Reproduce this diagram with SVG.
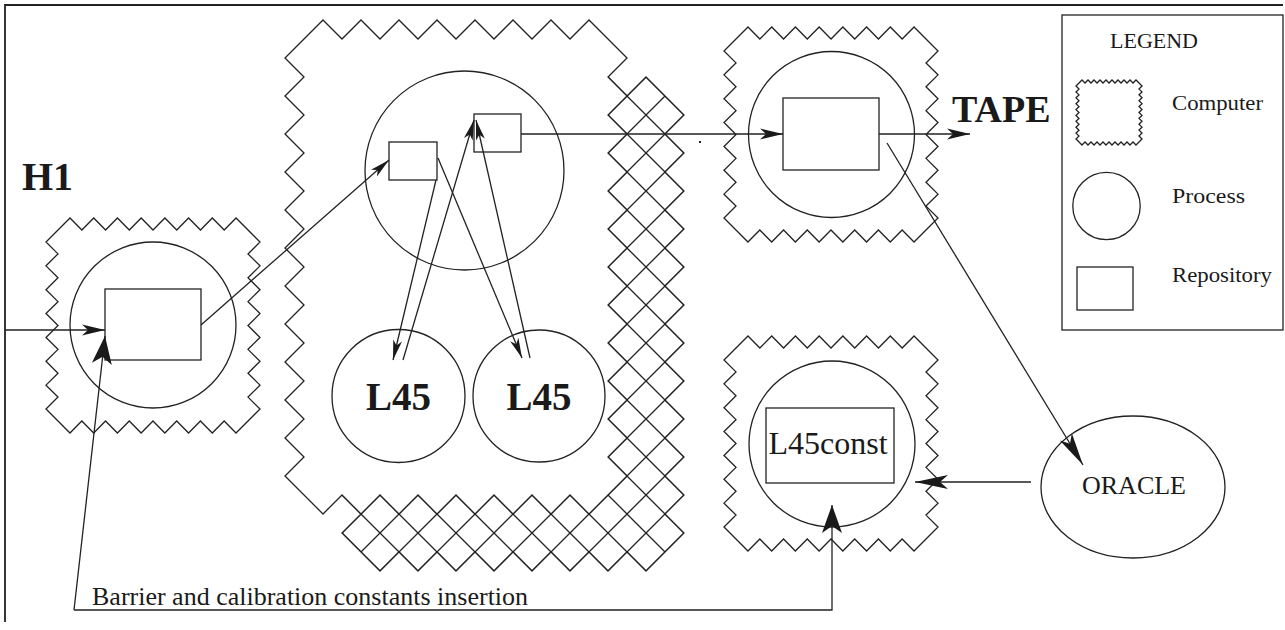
<svg xmlns="http://www.w3.org/2000/svg" width="1285" height="630" viewBox="0 0 1285 630">
<style>
.s{fill:none;stroke:#222;stroke-width:1.3}
.w{fill:#fff;stroke:#222;stroke-width:1.3}
.t{font-family:"Liberation Serif","Times New Roman",serif;fill:#1a1a1a}
.c{fill:none;stroke:#222;stroke-width:1.3}
.ah{fill:#1a1a1a;stroke:none}
</style>
<defs>
<path id="stampM" d="M24,0 l11.86,12 l11.86,-12 l11.86,12 l11.86,-12 l11.86,12 l11.86,-12 l11.86,12 l11.86,-12 l11.86,12 l11.86,-12 l11.86,12 l11.86,-12 l11.86,12 l11.86,-12 L214,24 l-12,11.93 l12,11.93 l-12,11.93 l12,11.93 l-12,11.93 l12,11.93 l-12,11.93 l12,11.93 l-12,11.93 l12,11.93 l-12,11.93 l12,11.93 l-12,11.93 l12,11.93 L190,215 l-11.86,-12 l-11.86,12 l-11.86,-12 l-11.86,12 l-11.86,-12 l-11.86,12 l-11.86,-12 l-11.86,12 l-11.86,-12 l-11.86,12 l-11.86,-12 l-11.86,12 l-11.86,-12 l-11.86,12 L0,191 l12,-11.93 l-12,-11.93 l12,-11.93 l-12,-11.93 l12,-11.93 l-12,-11.93 l12,-11.93 l-12,-11.93 l12,-11.93 l-12,-11.93 l12,-11.93 l-12,-11.93 l12,-11.93 l-12,-11.93 Z"/>
<path id="bigC" d="M323,20 l19,19 l19,-19 l19,19 l19,-19 l19,19 l19,-19 l19,19 l19,-19 l19,19 l19,-19 l19,19 l19,-19 l19,19 l19,-19 L627,58 l-19,19 l19,19 l-19,19 l19,19 l-19,19 l19,19 l-19,19 l19,19 l-19,19 l19,19 l-19,19 l19,19 l-19,19 l19,19 l-19,19 l19,19 l-19,19 l19,19 l-19,19 l19,19 l-19,19 l19,19 L589,514 l-19,-19 l-19,19 l-19,-19 l-19,19 l-19,-19 l-19,19 l-19,-19 l-19,19 l-19,-19 l-19,19 l-19,-19 l-19,19 l-19,-19 l-19,19 L285,476 l19,-19 l-19,-19 l19,-19 l-19,-19 l19,-19 l-19,-19 l19,-19 l-19,-19 l19,-19 l-19,-19 l19,-19 l-19,-19 l19,-19 l-19,-19 l19,-19 l-19,-19 l19,-19 l-19,-19 l19,-19 l-19,-19 l19,-19 l-19,-19 Z"/>
<pattern id="hatch" patternUnits="userSpaceOnUse" x="0" y="1" width="38" height="38">
<rect width="38" height="38" fill="#fff"/>
<path d="M-2,-2 L40,40 M36,-2 L40,2 M-2,36 L2,40 M-2,40 L40,-2 M-2,2 L2,-2 M36,40 L40,36" stroke="#222" stroke-width="1.3" fill="none"/>
</pattern>
<marker id="aS" markerUnits="userSpaceOnUse" viewBox="-24 -8 26 16" markerWidth="26" markerHeight="16" refX="0" refY="0" orient="auto" overflow="visible"><path class="ah" d="M0,0 L-20,-4.5 L-15,0 L-20,4.5 Z"/></marker>
<marker id="aM" markerUnits="userSpaceOnUse" viewBox="-26 -8 28 16" markerWidth="28" markerHeight="16" refX="0" refY="0" orient="auto" overflow="visible"><path class="ah" d="M0,0 L-23,-5.5 L-17,0 L-23,5.5 Z"/></marker>
<marker id="aL" markerUnits="userSpaceOnUse" viewBox="-32 -12 34 24" markerWidth="34" markerHeight="24" refX="0" refY="0" orient="auto" overflow="visible"><path class="ah" d="M0,0 L-28,-10 L-21,0 L-28,10 Z"/></marker>
<marker id="aN" markerUnits="userSpaceOnUse" viewBox="-36 -9 38 18" markerWidth="38" markerHeight="18" refX="0" refY="0" orient="auto" overflow="visible"><path class="ah" d="M0,0 L-33,-7 L-25,0 L-33,7 Z"/></marker>
</defs>
<rect width="1285" height="630" fill="#fff"/>
<path d="M1283,5 L5,5 L5,622" fill="none" stroke="#222" stroke-width="1.8"/>

<g id="computer-h1">
<use href="#stampM" x="46" y="218" class="s"/>
<circle cx="153" cy="325" r="83" class="s"/>
<rect x="105" y="289" width="96" height="71" class="s"/>
<text class="t" x="22" y="190" font-size="40" font-weight="bold">H1</text>
</g>

<g id="computer-l45">
<use href="#bigC" transform="translate(57,57)" fill="url(#hatch)" stroke="#222" stroke-width="1.3"/>
<use href="#bigC" class="w"/>
<g id="process-main">
<circle cx="464.5" cy="170.5" r="99.5" class="s"/>
<rect id="repo-a" x="389" y="142" width="48" height="38" class="s"/>
<rect id="repo-b" x="474" y="114" width="47" height="38" class="s"/>
</g>
<g id="process-l45-a">
<circle cx="398.5" cy="396" r="66.5" class="s"/>
<text class="t" x="398.5" y="410" font-size="39" font-weight="bold" text-anchor="middle">L45</text>
</g>
<g id="process-l45-b">
<circle cx="539" cy="396" r="66" class="s"/>
<text class="t" x="539" y="410" font-size="39" font-weight="bold" text-anchor="middle">L45</text>
</g>
</g>

<g id="computer-tape">
<use href="#stampM" x="724" y="27" class="s"/>
<circle cx="831.5" cy="134.5" r="83" class="s"/>
<rect x="783" y="98" width="96" height="72" class="s"/>
</g>
<g id="tape-label">
<text class="t" x="952" y="122" font-size="38" font-weight="bold">TAPE</text>
</g>

<g id="computer-l45const">
<use href="#stampM" x="724" y="336" class="s"/>
<circle cx="832" cy="444" r="83" class="s"/>
<rect x="766" y="408" width="128" height="75" class="s"/>
<text class="t" x="828" y="454" font-size="32" text-anchor="middle">L45const</text>
</g>

<g id="oracle">
<ellipse cx="1133" cy="487" rx="92" ry="71" class="s"/>
<text class="t" x="1134" y="494" font-size="26" text-anchor="middle">ORACLE</text>
</g>

<g id="legend">
<rect x="1062" y="15" width="221" height="315" class="s"/>
<text class="t" x="1154" y="48" font-size="22" text-anchor="middle">LEGEND</text>
<path class="s" d="M1082,80 l3,3 l3,-3 l3,3 l3,-3 l3,3 l3,-3 l3,3 l3,-3 l3,3 l3,-3 l3,3 l3,-3 l3,3 l3,-3 l3,3 l3,-3 l3,3 l3,-3 L1142,86 l-3,2.94 l3,2.94 l-3,2.94 l3,2.94 l-3,2.94 l3,2.94 l-3,2.94 l3,2.94 l-3,2.94 l3,2.94 l-3,2.94 l3,2.94 l-3,2.94 l3,2.94 l-3,2.94 l3,2.94 l-3,2.94 l3,2.94 L1136,145 l-3,-3 l-3,3 l-3,-3 l-3,3 l-3,-3 l-3,3 l-3,-3 l-3,3 l-3,-3 l-3,3 l-3,-3 l-3,3 l-3,-3 l-3,3 l-3,-3 l-3,3 l-3,-3 l-3,3 L1076,139 l3,-2.94 l-3,-2.94 l3,-2.94 l-3,-2.94 l3,-2.94 l-3,-2.94 l3,-2.94 l-3,-2.94 l3,-2.94 l-3,-2.94 l3,-2.94 l-3,-2.94 l3,-2.94 l-3,-2.94 l3,-2.94 l-3,-2.94 l3,-2.94 l-3,-2.94 Z" stroke-width="1"/>
<text class="t" x="1172" y="110" font-size="21" textLength="91" lengthAdjust="spacingAndGlyphs">Computer</text>
<circle cx="1106.5" cy="206" r="33.7" class="s"/>
<text class="t" x="1172" y="203" font-size="21" textLength="73" lengthAdjust="spacingAndGlyphs">Process</text>
<rect x="1077" y="267" width="56" height="43" class="s"/>
<text class="t" x="1172" y="282" font-size="21" textLength="100" lengthAdjust="spacingAndGlyphs">Repository</text>
</g>

<g id="connectors" class="c">
<path d="M5,330 L105,330" marker-end="url(#aM)"/>
<path d="M74,610 L105,336" marker-end="url(#aL)"/>
<path d="M74,610 L832,610 L832,505" marker-end="url(#aL)"/>
<path d="M201,325 L389,160" marker-end="url(#aS)"/>
<path d="M436,180 L393,360" marker-end="url(#aS)"/>
<path d="M403,360 L474,120" marker-end="url(#aS)"/>
<path d="M438,158 L522,358" marker-end="url(#aS)"/>
<path d="M530,358 L476,120" marker-end="url(#aS)"/>
<path d="M521,134 L783,134" marker-end="url(#aM)"/>
<path d="M879,134 L970,134" marker-end="url(#aM)"/>
<path d="M887,143 L1083,465" marker-end="url(#aN)"/>
<path d="M1031,482 L915,482" marker-end="url(#aN)"/>
</g>
<rect x="699" y="141" width="2" height="2" fill="#222"/>

<g id="caption">
<text class="t" x="92" y="605" font-size="26">Barrier and calibration constants insertion</text>
</g>
</svg>
